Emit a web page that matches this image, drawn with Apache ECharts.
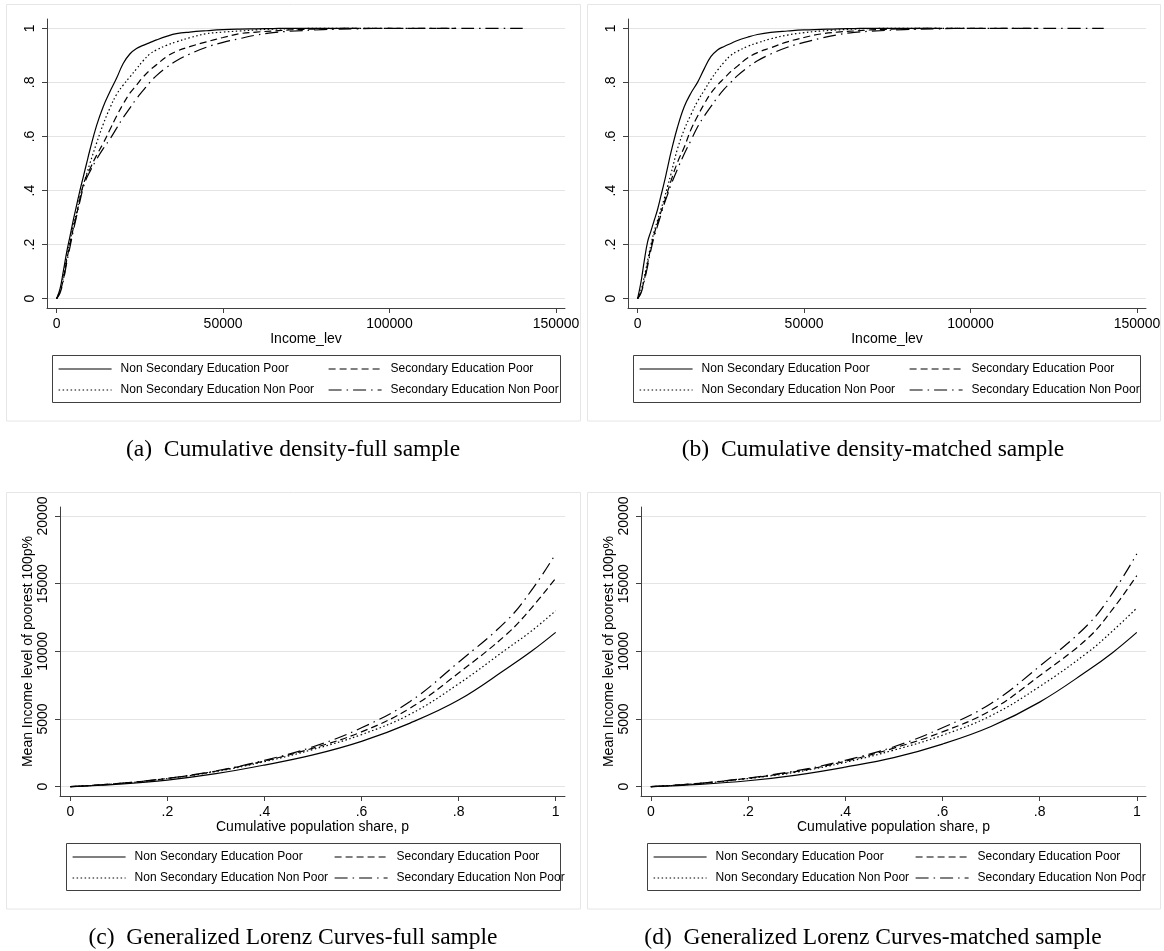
<!DOCTYPE html>
<html>
<head>
<meta charset="utf-8">
<title>Income distribution by education and poverty status</title>
<script src="https://cdn.jsdelivr.net/npm/echarts@6/dist/echarts.min.js"></script>
<style>
  html, body { margin: 0; padding: 0; background: #fff; }
  #chart { width: 1164px; height: 951px; }
</style>
</head>
<body>
<div id="chart"></div>
<script>
// ---- group names (legend order: column 1 then column 2) ----
const groupNames = [
  'Non Secondary Education Poor',
  'Non Secondary Education Non Poor',
  'Secondary Education Poor',
  'Secondary Education Non Poor'
];

// ---- cumulative distribution: income levels and F(income) per group ----
const incomeLevels = [0, 1000, 2000, 3000, 4000, 5000, 6000, 7000, 8000, 9000, 10000,
  12000, 14000, 16000, 18000, 20000, 22000, 24000, 26000, 28000, 30000, 33000, 36000,
  40000, 45000, 50000, 55000, 60000, 65000, 70000, 80000, 90000, 100000, 110000,
  120000, 130000, 140000];

// full sample
const cdfFullNonSecPoor = [0, .035, .10, .17, .23, .29, .345, .40, .45, .50, .55, .64, .71, .765, .815, .87, .905, .925, .937, .947, .957, .97, .98, .986, .991, .995, .997, .998, .999, 1, 1, 1, null, null, null, null, null];
const cdfFullNonSecNonPoor = [0, .03, .08, .15, .21, .27, .32, .375, .42, .46, .50, .575, .645, .705, .755, .79, .82, .85, .88, .905, .92, .937, .95, .965, .98, .986, .99, .994, .997, .998, 1, 1, 1, null, null, null, null];
const cdfFullSecPoor = [0, .025, .07, .14, .20, .26, .31, .37, .42, .455, .48, .53, .575, .625, .675, .72, .76, .79, .82, .845, .865, .895, .915, .932, .95, .966, .98, .986, .99, .994, .998, 1, 1, 1, 1, null, null];
const cdfFullSecNonPoor = [0, .02, .065, .13, .19, .25, .305, .36, .41, .445, .47, .515, .555, .59, .63, .67, .705, .74, .77, .80, .825, .855, .88, .905, .93, .948, .962, .975, .984, .989, .995, .998, 1, 1, 1, 1, 1];

// matched sample
const cdfMatchedNonSecPoor = [0, .06, .14, .21, .25, .29, .33, .38, .43, .485, .54, .635, .71, .76, .80, .85, .895, .92, .933, .944, .955, .967, .977, .985, .99, .994, .996, .998, .999, 1, 1, 1, null, null, null, null, null];
const cdfMatchedNonSecNonPoor = [0, .03, .08, .14, .20, .25, .29, .33, .37, .415, .46, .555, .625, .68, .73, .77, .81, .845, .875, .90, .915, .933, .946, .961, .975, .984, .99, .994, .997, .999, 1, 1, 1, null, null, null, null];
const cdfMatchedSecPoor = [0, .025, .07, .13, .19, .24, .28, .32, .355, .395, .435, .505, .56, .625, .675, .72, .76, .79, .815, .84, .86, .89, .91, .928, .95, .966, .979, .986, .99, .994, .998, 1, 1, 1, 1, null, null];
const cdfMatchedSecNonPoor = [0, .02, .065, .12, .18, .23, .27, .31, .35, .385, .42, .48, .535, .585, .635, .675, .71, .745, .775, .80, .825, .855, .88, .905, .93, .948, .963, .976, .985, .989, .995, .998, 1, 1, 1, 1, 1];

// ---- generalized Lorenz curves: population share p and GL(p) per group ----
const popShare = [0, .1, .2, .3, .4, .5, .6, .7, .8, .9, .95, 1];

const glFullNonSecPoor = [0, 190, 490, 960, 1600, 2350, 3350, 4700, 6400, 8750, 10000, 11400];
const glFullNonSecNonPoor = [0, 230, 600, 1120, 1850, 2750, 3850, 5350, 7600, 10200, 11500, 13000];
const glFullSecPoor = [0, 240, 610, 1150, 1900, 2850, 4050, 5800, 8400, 11300, 13200, 15400];
const glFullSecNonPoor = [0, 240, 620, 1170, 1950, 2950, 4350, 6300, 9200, 12300, 14500, 17200];

const glMatchedNonSecPoor = [0, 170, 440, 860, 1450, 2150, 3150, 4450, 6250, 8600, 9900, 11400];
const glMatchedNonSecNonPoor = [0, 230, 600, 1080, 1800, 2700, 3800, 5250, 7400, 9950, 11500, 13200];
const glMatchedSecPoor = [0, 250, 620, 1130, 1880, 2850, 4050, 5650, 8200, 11000, 13100, 15600];
const glMatchedSecNonPoor = [0, 250, 640, 1180, 1950, 2950, 4350, 6150, 8900, 12000, 14300, 17200];

// ---- tick values ----
const incomeTicks = [0, 50000, 100000, 150000];
const cdfTicks = [0, 0.2, 0.4, 0.6, 0.8, 1];
const shareTicks = [0, 0.2, 0.4, 0.6, 0.8, 1];
const glTicks = [0, 5000, 10000, 15000, 20000];

// ---- captions ----
const captions = [
  '(a)  Cumulative density-full sample',
  '(b)  Cumulative density-matched sample',
  '(c)  Generalized Lorenz Curves-full sample',
  '(d)  Generalized Lorenz Curves-matched sample'
];

// ---- drawing ----
const LABEL_FONT = '"Liberation Sans", Arial, sans-serif';
const AXIS_COLOR = '#404040';
const GRID_COLOR = '#e4e4e4';

// line pattern for each group (same order as groupNames)
const dashPatterns = ['solid', [1.5, 2.5], [7, 4], [13, 5, 1.5, 5]];

const decimalFmt = v => (v === 0 ? '0' : v === 1 ? '1' : String(+v.toFixed(2)).replace(/^0\./, '.'));
const plainFmt = v => String(v);

function xAxisDef(gridIndex, min, max, ticks, fmt, name) {
  return {
    type: 'value', gridIndex, min, max,
    name, nameLocation: 'middle', nameGap: 22,
    nameTextStyle: { fontSize: 14, color: '#000', fontFamily: LABEL_FONT },
    axisLine: { show: true, onZero: false, lineStyle: { color: AXIS_COLOR, width: 1 } },
    axisTick: { show: true, length: 5, customValues: ticks, lineStyle: { color: AXIS_COLOR } },
    axisLabel: { customValues: ticks, formatter: fmt, margin: 9, fontSize: 14, color: '#000', fontFamily: LABEL_FONT },
    splitLine: { show: false }
  };
}

function yAxisDef(gridIndex, min, max, ticks, fmt, name) {
  return {
    type: 'value', gridIndex, min, max,
    name: name || '', nameLocation: 'middle', nameGap: 21,
    nameTextStyle: { fontSize: 14, color: '#000', fontFamily: LABEL_FONT },
    axisLine: { show: true, onZero: false, lineStyle: { color: AXIS_COLOR, width: 1 } },
    axisTick: { show: true, length: 5, customValues: ticks, lineStyle: { color: AXIS_COLOR } },
    axisLabel: { customValues: ticks, formatter: fmt, rotate: 90, margin: 10, fontSize: 14, color: '#000', fontFamily: LABEL_FONT },
    splitLine: { show: true, lineStyle: { color: GRID_COLOR, width: 1 } }
  };
}

function pairs(xs, ys) {
  const out = [];
  xs.forEach((x, i) => { if (ys[i] != null) out.push([x, ys[i]]); });
  return out;
}

function panelSeries(axisIndex, xs, groups) {
  return groups.map((ys, k) => ({
    type: 'line',
    name: groupNames[k],
    xAxisIndex: axisIndex,
    yAxisIndex: axisIndex,
    data: pairs(xs, ys),
    symbol: 'none',
    smooth: 0.4,
    lineStyle: { color: '#000', width: 1.2, type: dashPatterns[k] },
    emphasis: { disabled: true },
    z: 3
  }));
}

function legendColumn(left, top, names) {
  return {
    orient: 'vertical', left, top, padding: 0,
    itemWidth: 53, itemHeight: 14, itemGap: 9,
    selectedMode: false,
    data: names,
    itemStyle: { opacity: 0 },
    lineStyle: { width: 1.2 },
    textStyle: { fontSize: 12, color: '#000', fontFamily: LABEL_FONT, padding: [0, 0, 0, 4] }
  };
}

const col1 = [groupNames[0], groupNames[1]];
const col2 = [groupNames[2], groupNames[3]];

function frameRect(x, y, w, h) {
  return { type: 'rect', silent: true, z: -10, shape: { x, y, width: w, height: h },
    style: { fill: 'none', stroke: '#e6e6e6', lineWidth: 1 } };
}
function legendBox(x, y, w, h) {
  return { type: 'rect', silent: true, z: 100, shape: { x, y, width: w, height: h },
    style: { fill: 'none', stroke: '#404040', lineWidth: 1 } };
}
function caption(text, x, y) {
  return { type: 'text', silent: true, x, y,
    style: { text, fontSize: 23.5, fontFamily: '"Liberation Serif", "Times New Roman", serif',
      fill: '#000', align: 'center', verticalAlign: 'middle' } };
}

const option = {
  animation: false,
  backgroundColor: '#fff',
  textStyle: { fontFamily: LABEL_FONT },
  grid: [
    { left: 47, top: 19, width: 518, height: 289 },
    { left: 628, top: 19, width: 518, height: 289 },
    { left: 60, top: 507, width: 505, height: 289 },
    { left: 641, top: 507, width: 505, height: 289 }
  ],
  xAxis: [
    xAxisDef(0, -2883, 152703, incomeTicks, plainFmt, 'Income_lev'),
    xAxisDef(1, -2883, 152703, incomeTicks, plainFmt, 'Income_lev'),
    xAxisDef(2, -0.0212, 1.0192, shareTicks, decimalFmt, 'Cumulative population share, p'),
    xAxisDef(3, -0.0202, 1.0189, shareTicks, decimalFmt, 'Cumulative population share, p')
  ],
  yAxis: [
    yAxisDef(0, -0.0344, 1.0344, cdfTicks, decimalFmt),
    yAxisDef(1, -0.0344, 1.0344, cdfTicks, decimalFmt),
    yAxisDef(2, -687, 20665, glTicks, plainFmt, 'Mean Income level of poorest 100p%'),
    yAxisDef(3, -687, 20665, glTicks, plainFmt, 'Mean Income level of poorest 100p%')
  ],
  legend: [
    legendColumn(58, 363, col1), legendColumn(328, 363, col2),
    legendColumn(639, 363, col1), legendColumn(909, 363, col2),
    legendColumn(72, 851, col1), legendColumn(334, 851, col2),
    legendColumn(653, 851, col1), legendColumn(915, 851, col2)
  ],
  series: [].concat(
    panelSeries(0, incomeLevels, [cdfFullNonSecPoor, cdfFullNonSecNonPoor, cdfFullSecPoor, cdfFullSecNonPoor]),
    panelSeries(1, incomeLevels, [cdfMatchedNonSecPoor, cdfMatchedNonSecNonPoor, cdfMatchedSecPoor, cdfMatchedSecNonPoor]),
    panelSeries(2, popShare, [glFullNonSecPoor, glFullNonSecNonPoor, glFullSecPoor, glFullSecNonPoor]),
    panelSeries(3, popShare, [glMatchedNonSecPoor, glMatchedNonSecNonPoor, glMatchedSecPoor, glMatchedSecNonPoor])
  ),
  graphic: [
    frameRect(6.5, 4.5, 574, 416.5),
    frameRect(587.5, 4.5, 573, 416.5),
    frameRect(6.5, 492.5, 574, 416.5),
    frameRect(587.5, 492.5, 573, 416.5),
    legendBox(52.5, 355.5, 508, 47),
    legendBox(633.5, 355.5, 507, 47),
    legendBox(66.5, 843.5, 494, 47),
    legendBox(647.5, 843.5, 493, 47),
    caption(captions[0], 293, 450),
    caption(captions[1], 873, 450),
    caption(captions[2], 293, 938),
    caption(captions[3], 873, 938)
  ]
};

const chart = echarts.init(document.getElementById('chart'), null, { renderer: 'canvas' });
chart.setOption(option);
</script>
</body>
</html>
